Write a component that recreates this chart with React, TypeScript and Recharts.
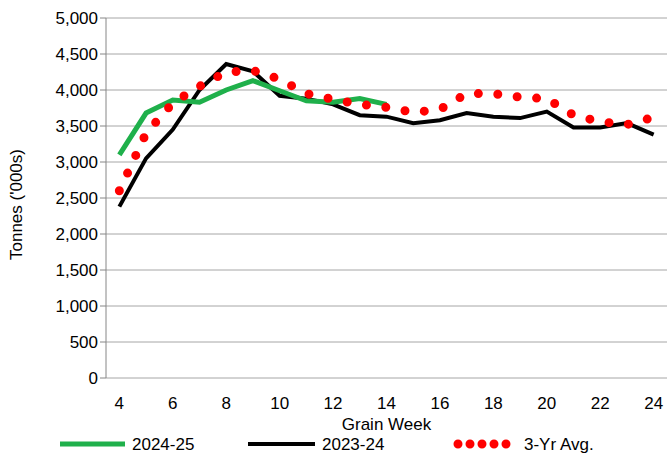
import { LineChart, Line, XAxis, YAxis, CartesianGrid } from "recharts";

const weeks = [4, 5, 6, 7, 8, 9, 10, 11, 12, 13, 14, 15, 16, 17, 18, 19, 20, 21, 22, 23, 24];
const current = [3100, 3680, 3860, 3830, 4000, 4130, 3990, 3850, 3830, 3880, 3800];
const previous = [2380, 3050, 3450, 4000, 4360, 4260, 3920, 3880, 3800, 3650, 3630, 3540, 3580, 3680, 3630, 3610, 3700, 3480, 3480, 3540, 3380];
const avg3yr = [2600, 3400, 3820, 4050, 4250, 4270, 4150, 3950, 3870, 3800, 3760, 3690, 3730, 3950, 3950, 3900, 3880, 3650, 3560, 3520, 3620];
const yTicks = [0, 500, 1000, 1500, 2000, 2500, 3000, 3500, 4000, 4500, 5000];
const xTicks = [4, 6, 8, 10, 12, 14, 16, 18, 20, 22, 24];
const weekEdges = [3.5, ...weeks.map((w) => w + 0.5)];

const data = weeks.map((w, i) => ({
  week: w,
  current: current[i],
  previous: previous[i],
  avg: avg3yr[i],
}));

const font = "'Liberation Sans', Arial, sans-serif";
const axisGray = "#868686";

export default function App() {
  return (
    <div style={{ position: "absolute", left: 0, top: 0, width: 669, height: 459, fontFamily: font, background: "#fff" }}>
      <LineChart width={669} height={459} data={data} margin={{ top: 18, right: 2, left: 0, bottom: 33 }}>
        <CartesianGrid vertical={false} stroke="#a6a6a6" />
        <XAxis
          xAxisId="edges"
          dataKey="week"
          type="number"
          domain={[3.5, 24.5]}
          ticks={weekEdges}
          height={0}
          stroke={axisGray}
          tickSize={6}
          tickFormatter={() => ""}
        />
        <XAxis
          dataKey="week"
          type="number"
          domain={[3.5, 24.5]}
          ticks={xTicks}
          height={48}
          axisLine={false}
          tickLine={false}
          tickMargin={13}
          tick={{ fill: "#000", fontSize: 17, fontFamily: font }}
          label={{ value: "Grain Week", position: "insideBottom", offset: -4, fill: "#000", fontSize: 17, fontFamily: font }}
        />
        <YAxis
          domain={[0, 5000]}
          ticks={yTicks}
          width={106}
          stroke={axisGray}
          tickSize={6}
          tickFormatter={(v: number) => v.toLocaleString("en-US")}
          tick={{ fill: "#000", fontSize: 17, fontFamily: font }}
          label={{ value: "Tonnes ('000s)", angle: -90, position: "insideLeft", offset: 16, dy: 62, fill: "#000", fontSize: 17, fontFamily: font }}
        />
        <Line dataKey="previous" stroke="#000" strokeWidth={4} dot={false} isAnimationActive={false} />
        <Line dataKey="current" stroke="#1fb04b" strokeWidth={5} dot={false} isAnimationActive={false} />
        <Line dataKey="avg" stroke="#ff0000" strokeWidth={9} strokeLinecap="round" strokeDasharray="0 19.5" dot={false} isAnimationActive={false} />
      </LineChart>
      <svg width={669} height={30} style={{ position: "absolute", left: 0, top: 429 }}>
        <line x1={60} x2={125} y1={15} y2={15} stroke="#1fb04b" strokeWidth={5} />
        <text x={132} y={21} fontSize={17} fontFamily={font}>2024-25</text>
        <line x1={248} x2={315} y1={15} y2={15} stroke="#000" strokeWidth={4} />
        <text x={322} y={21} fontSize={17} fontFamily={font}>2023-24</text>
        <line x1={458} x2={518} y1={15} y2={15} stroke="#ff0000" strokeWidth={9} strokeLinecap="round" strokeDasharray="0 12" />
        <text x={524} y={21} fontSize={17} fontFamily={font}>3-Yr Avg.</text>
      </svg>
    </div>
  );
}
